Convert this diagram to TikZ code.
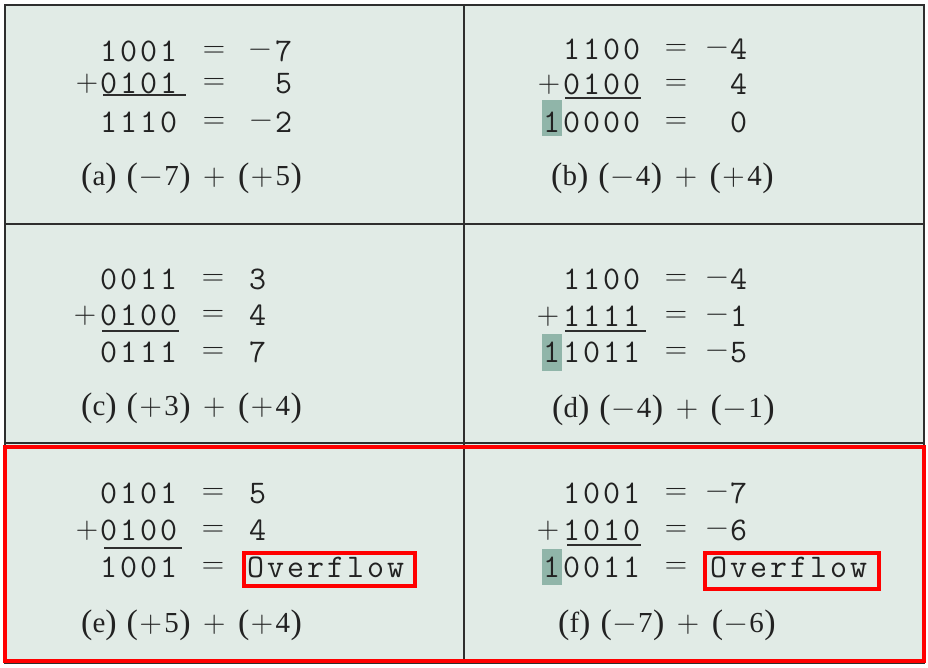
\documentclass[tikz,border=0pt]{standalone}
\usepackage{fontspec}
\newfontfamily\capfamily{Liberation Serif}
\newcommand\bitfont{\fontsize{33}{33}\selectfont\ttfamily}
\newcommand\opfont{\fontsize{31}{31}\selectfont\rmfamily}
\newcommand\captfont{\fontsize{29}{29}\selectfont\capfamily}
% monospaced cells of 20pt
\newcommand\spc[1]{\spcloop#1\relax}
\def\spcloop#1{\ifx\relax#1\else\makebox[20pt][c]{#1}\expandafter\spcloop\fi}
% caption pieces
\newcommand\cop[1]{{\fontsize{31}{31}\selectfont\rmfamily #1}}
\newcommand\lpar{\raisebox{-1.5pt}{\fontsize{34}{34}\selectfont(}}
\newcommand\rpar{\raisebox{-1.5pt}{\fontsize{34}{34}\selectfont)}}
\newcommand\clab[1]{\lpar#1\rpar\hspace{10pt}}
\newcommand\cgrp[2]{\lpar\kern1.5pt\cop{#1}\kern2.5pt#2\kern0.5pt\rpar}
\newcommand\cplus{\hspace{12.5pt}\cop{+}\hspace{12.5pt}}
\definecolor{bgcol}{HTML}{E1EBE6}
\definecolor{hlcol}{HTML}{90B5A9}
\definecolor{linecol}{HTML}{2E2E2E}
\definecolor{txtcol}{HTML}{222222}
\definecolor{redcol}{HTML}{FF0000}
\tikzset{
  bits/.style={anchor=base west, inner sep=0pt, font=\bitfont, text=txtcol},
  opsym/.style={anchor=base, inner sep=0pt, font=\opfont, text=txtcol},
  capt/.style={anchor=base west, inner sep=0pt, font=\captfont, text=txtcol},
  rulebar/.style={draw=linecol, line width=1.6pt},
  hlbox/.style={fill=hlcol, draw=none},
  ovbox/.style={draw=redcol, line width=3.5pt},
  gridline/.style={draw=linecol, line width=2.5pt}
}
\begin{document}
\begin{tikzpicture}[x=1pt,y=-1pt]
\useasboundingbox (0,0) rectangle (928,667);
\fill[white] (0,0) rectangle (928,667);
\fill[bgcol] (5,5) rectangle (924,663);
% highlights
\fill[hlbox] (542,100) rectangle (562,136);
\fill[hlbox] (542,334) rectangle (562,371);
\fill[hlbox] (542,549) rectangle (562,585);

% ---- cell (a)
\node[bits] (a1) at (98.5,61) {\spc{1001}};
\node[bits] (a2) at (98.5,93) {\spc{0101}};
\node[bits] (a3) at (98.5,132) {\spc{1110}};
\node[opsym] (ap) at (87,91) {+};
\node[opsym] (ae1) at (214,57) {=};
\node[opsym] (ae2) at (214,89) {=};
\node[opsym] (ae3) at (214,128) {=};
\node[opsym] (am1) at (260,57) {−};
\node[bits] (av1) at (273.5,61) {\spc{7}};
\node[bits] (av2) at (273.5,93) {\spc{5}};
\node[opsym] (am3) at (261,128) {−};
\node[bits] (av3) at (273.5,132) {\spc{2}};
\draw[rulebar] (103,95) -- (186,95);
\node[capt] (acap) at (81,185) {\clab{a}\cgrp{−}{7}\cplus\cgrp{+}{5}};

% ---- cell (b)
\node[bits] (b1) at (561.5,59) {\spc{1100}};
\node[bits] (b2) at (561.5,94) {\spc{0100}};
\node[bits] (b3) at (541.5,132) {\spc{10000}};
\node[opsym] (bp) at (549,92) {+};
\node[opsym] (be1) at (676,55) {=};
\node[opsym] (be2) at (676,90) {=};
\node[opsym] (be3) at (676,128) {=};
\node[opsym] (bm1) at (717,55) {−};
\node[bits] (bv1) at (728.5,59) {\spc{4}};
\node[bits] (bv2) at (728.5,94) {\spc{4}};
\node[bits] (bv3) at (728.5,132) {\spc{0}};
\draw[rulebar] (565,98) -- (641,98);
\node[capt] (bcap) at (551,185) {\clab{b}\cgrp{−}{4}\cplus\cgrp{+}{4}};

% ---- cell (c)
\node[bits] (c1) at (98.5,289) {\spc{0011}};
\node[bits] (c2) at (98.5,325) {\spc{0100}};
\node[bits] (c3) at (98.5,362) {\spc{0111}};
\node[opsym] (cp) at (85,323) {+};
\node[opsym] (ce1) at (213,285) {=};
\node[opsym] (ce2) at (213,321) {=};
\node[opsym] (ce3) at (213,358) {=};
\node[bits] (cv1) at (247.5,289) {\spc{3}};
\node[bits] (cv2) at (247.5,325) {\spc{4}};
\node[bits] (cv3) at (247.5,362) {\spc{7}};
\draw[rulebar] (102,331) -- (179,331);
\node[capt] (ccap) at (81,415) {\clab{c}\cgrp{+}{3}\cplus\cgrp{+}{4}};

% ---- cell (d)
\node[bits] (d1) at (561.5,289) {\spc{1100}};
\node[bits] (d2) at (561.5,326) {\spc{1111}};
\node[bits] (d3) at (541.5,362) {\spc{11011}};
\node[opsym] (dp) at (548,324) {+};
\node[opsym] (de1) at (676,285) {=};
\node[opsym] (de2) at (676,322) {=};
\node[opsym] (de3) at (676,358) {=};
\node[opsym] (dm1) at (717,285) {−};
\node[bits] (dv1) at (728.5,289) {\spc{4}};
\node[opsym] (dm2) at (717,322) {−};
\node[bits] (dv2) at (728.5,326) {\spc{1}};
\node[opsym] (dm3) at (717,358) {−};
\node[bits] (dv3) at (728.5,362) {\spc{5}};
\draw[rulebar] (565,331) -- (646,331);
\node[capt] (dcap) at (552,417) {\clab{d}\cgrp{−}{4}\cplus\cgrp{−}{1}};

% ---- cell (e)
\node[bits] (e1) at (98.5,503) {\spc{0101}};
\node[bits] (e2) at (98.5,540) {\spc{0100}};
\node[bits] (e3) at (98.5,577) {\spc{1001}};
\node[opsym] (ep) at (87,538) {+};
\node[opsym] (ee1) at (213,499) {=};
\node[opsym] (ee2) at (213,536) {=};
\node[opsym] (ee3) at (213,573) {=};
\node[bits] (ev1) at (247.5,503) {\spc{5}};
\node[bits] (ev2) at (247.5,540) {\spc{4}};
\node[bits] (ev3) at (245.5,577) {\spc{Overflow}};
\draw[rulebar] (104,548) -- (182,548);
\draw[ovbox] (244,553) rectangle (415,586);
\node[capt] (ecap) at (81,632) {\clab{e}\cgrp{+}{5}\cplus\cgrp{+}{4}};

% ---- cell (f)
\node[bits] (f1) at (561.5,503) {\spc{1001}};
\node[bits] (f2) at (561.5,540) {\spc{1010}};
\node[bits] (f3) at (541.5,577) {\spc{10011}};
\node[opsym] (fp) at (548,538) {+};
\node[opsym] (fe1) at (676,499) {=};
\node[opsym] (fe2) at (676,536) {=};
\node[opsym] (fe3) at (676,573) {=};
\node[opsym] (fm1) at (717,499) {−};
\node[bits] (fv1) at (728.5,503) {\spc{7}};
\node[opsym] (fm2) at (717,536) {−};
\node[bits] (fv2) at (728.5,540) {\spc{6}};
\node[bits] (fv3) at (708.5,577) {\spc{Overflow}};
\draw[rulebar] (567,545) -- (641,545);
\draw[ovbox] (705,553) rectangle (879,589);
\node[capt] (fcap) at (558,632) {\clab{f}\cgrp{−}{7}\cplus\cgrp{−}{6}};

% grid
\draw[gridline] (5,5) rectangle (924,663);
\draw[gridline] (464,5) -- (464,663);
\draw[gridline] (5,224) -- (924,224);
\draw[gridline] (5,443) -- (924,443);
\draw[draw=redcol, line width=4pt] (5,447) rectangle (924,661);
\end{tikzpicture}
\end{document}
